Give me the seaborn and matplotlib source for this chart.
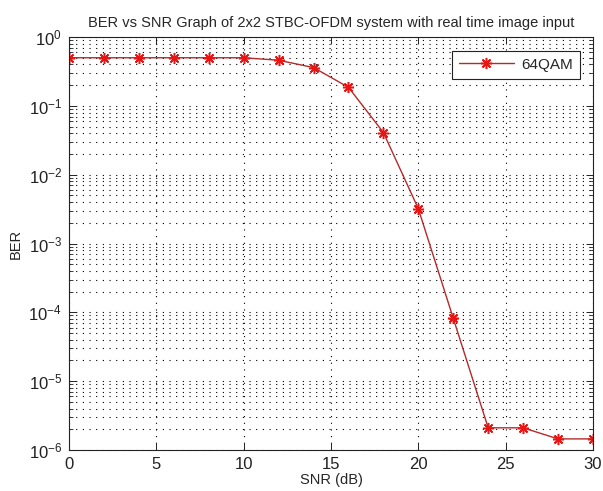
import numpy as np
import pandas as pd
import matplotlib
matplotlib.use("Agg")
import matplotlib.pyplot as plt
import matplotlib.ticker as mticker
import seaborn as sns

snr_db = [0, 2, 4, 6, 8, 10, 12, 14, 16, 18, 20, 22, 24, 26, 28, 30]
ber_64qam = [0.50, 0.50, 0.50, 0.50, 0.50, 0.50, 0.46, 0.36, 0.186, 0.041,
             0.0032, 8.2e-5, 2.1e-6, 2.1e-6, 1.45e-6, 1.45e-6]
series_label = "64QAM"
title_text = "BER vs SNR Graph of 2x2 STBC-OFDM system with real time image input"
x_ticks = [0, 5, 10, 15, 20, 25, 30]
y_exponents = [-6, -5, -4, -3, -2, -1, 0]

df = pd.DataFrame({"SNR": snr_db, "BER": ber_64qam, "series": series_label})

sns.set_theme(style="white")
plt.rcParams["font.family"] = ["Liberation Sans", "DejaVu Sans"]
plt.rcParams["mathtext.fontset"] = "custom"
plt.rcParams["mathtext.rm"] = "Liberation Sans"
plt.rcParams["mathtext.it"] = "Liberation Sans"

fig = plt.figure(figsize=(6.03, 4.91), dpi=100)
ax = fig.add_axes([0.1144, 0.0835, 0.8690, 0.8411])

line_color = "#b52a2a"
sns.lineplot(data=df, x="SNR", y="BER", hue="series", palette=[line_color],
             marker=(8, 2, 0), markersize=8, markeredgecolor="#e81515",
             markeredgewidth=1.1, linewidth=1.0, ax=ax)

ax.set_yscale("log")
ax.set_xlim(0, 30)
ax.set_ylim(1e-6, 1e0)
ax.set_xticks(x_ticks)

major_y = [10.0 ** e for e in y_exponents]
minor_y = [m * 10.0 ** e for e in y_exponents[:-1] for m in range(2, 10)]
ax.yaxis.set_major_locator(mticker.FixedLocator(major_y))
ax.yaxis.set_major_formatter(mticker.FixedFormatter(
    [r"$\mathdefault{10^{%d}}$" % e for e in y_exponents]))
ax.yaxis.set_minor_locator(mticker.FixedLocator(minor_y))
ax.yaxis.set_minor_formatter(mticker.NullFormatter())

dot = (0, (1, 5))
ax.grid(False)
ax.grid(which="major", axis="x", color="black", linestyle=dot, linewidth=0.8)
ax.grid(which="both", axis="y", color="black", linestyle=dot, linewidth=0.8)

for s in ax.spines.values():
    s.set_color("#222222")
    s.set_linewidth(0.8)

ax.tick_params(which="both", direction="in", top=True, right=True,
               bottom=True, left=True, colors="#222222", labelsize=12)
ax.tick_params(which="major", length=5, width=0.7, pad=5)
ax.tick_params(which="minor", length=3, width=0.6)

ax.set_xlabel("SNR (dB)", fontsize=10.5, labelpad=1)
ax.set_ylabel("BER", fontsize=10.5, labelpad=4)
ax.set_title(title_text, fontsize=10.5, pad=7)

leg = ax.legend(loc="upper right", fontsize=11, frameon=True, fancybox=False,
                edgecolor="#222222", handlelength=3.6, borderpad=0.45,
                handletextpad=0.5, bbox_to_anchor=(0.99, 0.985))
leg.get_frame().set_linewidth(0.8)
leg.get_frame().set_facecolor("white")
leg.get_frame().set_alpha(1.0)

fig.savefig("out.png", dpi=100, facecolor="white")
